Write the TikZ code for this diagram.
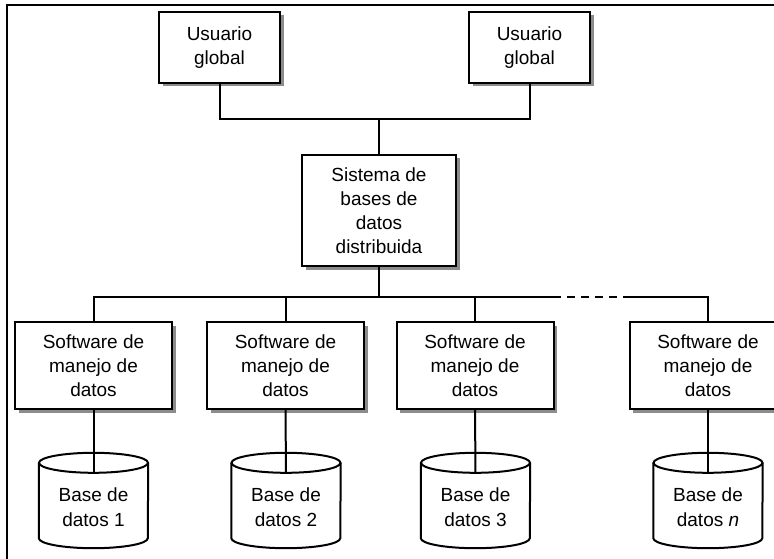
\documentclass[tikz,border=0pt]{standalone}
\usepackage{fontspec}
\setmainfont{Liberation Sans}
\usetikzlibrary{shadows}
\tikzset{
  lw/.style={line width=2pt},
  boxnode/.style={draw, lw, fill=white, align=center, inner sep=0pt,
    font=\fontsize{19}{24}\selectfont,
    drop shadow={shadow xshift=3.5pt, shadow yshift=-3.5pt, fill=black!45, opacity=1}},
  cylbody/.style={inner sep=0pt, minimum width=109pt, minimum height=95pt},
  cyltext/.style={align=center, inner sep=0pt, font=\fontsize{19}{25}\selectfont},
  conn/.style={lw},
}
\newcommand\dbcyl[4]{%
  \node[cylbody] (#1) at (#2,-500.5) {};
  \node[cyltext] (#1t) at ([yshift=-7pt]#1.center) {#3\\#4};
  \draw[lw] ([yshift=-10pt]#1.north west) -- ([yshift=10pt]#1.south west)
     arc (180:360:54.5pt and 10pt) -- ([yshift=-10pt]#1.north east);
  \draw[lw] ([yshift=-10pt]#1.north) ellipse (54.5pt and 10pt);
}
\begin{document}
\begin{tikzpicture}[x=1pt,y=1pt]
\useasboundingbox (0,0) rectangle (774,-559);
\clip (0,0) rectangle (774,-559);
\fill[white] (0,0) rectangle (774,-559);
% frame
\draw[lw] (7,-600) -- (7,-5) -- (800,-5);
% top users
\node[boxnode, minimum width=121pt, minimum height=71pt] (U1) at (219.5,-47.5) {Usuario\\global};
\node[boxnode, minimum width=121pt, minimum height=71pt] (U2) at (529.5,-47.5) {Usuario\\global};
% central system
\node[boxnode, minimum width=154pt, minimum height=111pt] (Sys) at (379,-210.5) {Sistema de\\bases de\\datos\\distribuida};
% software boxes
\node[boxnode, minimum width=157pt, minimum height=87pt] (S1) at (93.5,-365.5) {Software de\\manejo de\\datos};
\node[boxnode, minimum width=157pt, minimum height=87pt] (S2) at (285.5,-365.5) {Software de\\manejo de\\datos};
\node[boxnode, minimum width=157pt, minimum height=87pt] (S3) at (475,-365.5) {Software de\\manejo de\\datos};
\node[boxnode, minimum width=157pt, minimum height=87pt] (Sn) at (708,-365.5) {Software de\\manejo de\\datos};
% databases
\dbcyl{C1}{93.5}{Base de}{datos 1}
\dbcyl{C2}{286}{Base de}{datos 2}
\dbcyl{C3}{475.5}{Base de}{datos 3}
\dbcyl{Cn}{708}{Base de}{datos \textit{n}}
% connectors top
\coordinate (ub) at (379,-119);
\draw[conn] (U1.south) |- (ub) -| (U2.south);
\draw[conn] (ub) -- (Sys.north);
% lower bus
\coordinate (lb) at (379,-297);
\coordinate (d1) at (561,-297);
\coordinate (d2) at (623,-297);
\draw[conn] (Sys.south) -- (lb);
\draw[conn] (S1.north) |- (d1);
\draw[conn, dash pattern=on 8pt off 6pt, dash phase=8pt] (d1) -- (d2);
\draw[conn] (d2) -| (Sn.north);
\draw[conn] (S2.north) -- (S2.north |- lb);
\draw[conn] (S3.north) -- (S3.north |- lb);
% software to databases
\draw[conn] (S1.south) -- ([yshift=-20pt]C1.north);
\draw[conn] (S2.south) -- ([yshift=-20pt]C2.north);
\draw[conn] (S3.south) -- ([yshift=-20pt]C3.north);
\draw[conn] (Sn.south) -- ([yshift=-20pt]Cn.north);
\end{tikzpicture}
\end{document}
